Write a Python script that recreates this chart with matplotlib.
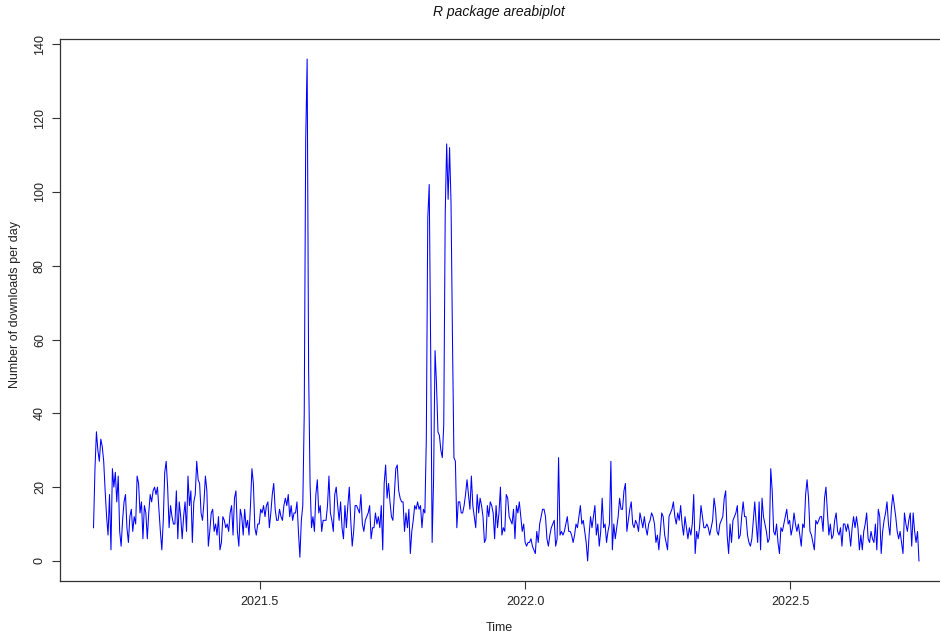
import numpy as np
import matplotlib
matplotlib.use("Agg")
import matplotlib.pyplot as plt

# daily downloads of the R package areabiplot
start_year = 2021
start_day = 69          # day of year of the first observation
freq = 365

downloads_2021 = [
    9, 25, 35, 30, 27, 33, 31, 27, 19, 12, 7, 18, 3, 25, 20, 24, 16, 23, 8, 4,
    11, 16, 18, 9, 5, 12, 14, 8, 12, 10, 23, 21, 13, 16, 6, 15, 13, 6, 13, 18,
    16, 19, 20, 18, 20, 14, 8, 3, 11, 24, 27, 20, 9, 15, 12, 10,
    10, 19, 6, 16, 12, 6, 12, 16, 8, 23, 15, 19, 5, 16, 18, 27, 22, 21, 13, 11,
    16, 23, 19, 4, 8, 13, 14, 8, 10, 7, 12, 3, 5, 12, 11, 9, 10, 8, 13, 15,
    7, 17, 19, 8, 4, 14, 12, 7, 14, 9, 11, 7, 15, 25, 21, 9, 7, 10, 10,
    14, 13, 15, 12, 15, 16, 9, 13, 18, 21, 14, 11, 11, 14, 12, 11, 15, 17, 15, 18,
    12, 15, 11, 13, 13, 16, 8, 1, 11, 15, 40, 114, 136, 52, 21, 9, 12, 8, 18, 22,
    13, 15, 8, 11, 11, 11, 15, 23, 13, 11, 8, 18, 20, 15, 11, 16, 9, 6, 15,
    9, 15, 20, 11, 4, 8, 15, 15, 14, 13, 18, 10, 8, 11, 12, 13, 15, 6, 9, 9,
    13, 10, 12, 9, 15, 3, 21, 26, 17, 21, 16, 12, 11, 18, 25, 26, 19, 17, 16, 16,
    8, 13, 9, 14, 2, 8, 11, 15, 14, 16, 14, 15, 9, 14, 13, 33, 93, 102, 57,
    5, 22, 57, 48, 35, 34, 30, 28, 37, 94, 113, 98, 112, 97, 60, 28, 27, 9,
    16, 16, 13, 13, 15, 18, 22, 18, 14, 23, 15, 12, 9, 18, 13, 17, 15, 12, 5, 6,
    15, 12, 16, 15, 13, 6, 15, 9, 13, 20, 7, 9, 8, 18, 17, 12, 11, 10, 14, 6,
    15, 13, 16, 12, 8, 10,
]

downloads_2022 = [
    5, 4, 5, 5, 6, 4, 3, 2, 8, 5, 10, 12, 14, 14, 12, 6, 4, 7, 9, 10,
    11, 4, 6, 28, 7, 8, 7, 8, 10, 12, 8, 8, 7, 5, 7, 10, 9, 12, 15, 10,
    11, 8, 5, 0, 7, 12, 9, 12, 15, 7, 10, 4, 8, 17, 9, 10,
    5, 8, 10, 27, 3, 10, 6, 9, 12, 17, 14, 14, 19, 21, 8, 11, 14, 16, 10, 9,
    11, 10, 8, 13, 11, 9, 12, 9, 7, 10, 11, 13, 12, 10, 5, 7, 3, 8, 13, 12,
    7, 5, 3, 12, 13, 14, 16, 12, 10, 13, 11, 15, 10, 7, 12, 9, 6, 9, 7,
    10, 18, 2, 8, 6, 9, 15, 12, 9, 9, 10, 9, 7, 9, 11, 17, 14, 8, 7, 10,
    11, 12, 17, 19, 7, 2, 10, 5, 11, 12, 13, 15, 6, 7, 12, 16, 12, 12, 7, 5,
    4, 6, 11, 16, 10, 5, 16, 3, 17, 12, 10, 8, 5, 6, 25, 19, 8, 7, 10,
    5, 2, 9, 8, 10, 12, 14, 10, 11, 7, 9, 13, 10, 8, 10, 7, 4, 10, 9, 18,
    22, 17, 8, 7, 5, 3, 11, 10, 11, 12, 12, 8, 17, 20, 13, 7, 10, 6, 7, 11,
    13, 8, 7, 9, 4, 10, 10, 8, 10, 8, 4, 9, 12, 9, 12, 9, 3, 7,
    3, 8, 10, 13, 6, 5, 8, 6, 5, 10, 3, 14, 12, 2, 8, 11, 13, 16, 10, 7,
    14, 18, 15, 12, 8, 6, 8, 5, 2, 13, 10, 8, 11, 13, 4, 13, 8, 5, 8, 0,
]

x_ticks = [2021.5, 2022.0, 2022.5]
y_ticks = [0, 20, 40, 60, 80, 100, 120, 140]

counts = np.array(downloads_2021 + downloads_2022, dtype=float)
t = start_year + (start_day - 1 + np.arange(len(counts))) / freq

plt.rcParams['font.family'] = ['Liberation Sans', 'DejaVu Sans']

fig = plt.figure(figsize=(9.4, 6.39), dpi=100)
# the plot box runs past the right edge of the picture, like the cropped original
ax = fig.add_axes([60.5 / 940, 58 / 639, (952 - 60.5) / 940, 542 / 639])

ax.plot(t, counts, color='#0000ff', linewidth=0.75)

# R style 4% padding on both axes
xspan = t[-1] - t[0]
ax.set_xlim(t[0] - 0.04 * xspan, t[-1] + 0.04 * xspan)
ymax = counts.max()
ax.set_ylim(-0.04 * ymax, ymax * 1.04)

ax.set_xticks(x_ticks)
ax.set_xticklabels([f"{v:.1f}" for v in x_ticks])
ax.set_yticks(y_ticks)
ax.set_yticklabels([str(v) for v in y_ticks], rotation=90, va='center')

for side in ['left', 'bottom', 'top', 'right']:
    ax.spines[side].set_color('#333333')
    ax.spines[side].set_linewidth(0.9)
ax.tick_params(axis='both', direction='out', length=5.5, width=0.8,
               color='#333333', labelsize=9, labelcolor='#222222', pad=5)

fig.text(499 / 940, 1 - 12 / 639, 'R package areabiplot', ha='center', va='center',
         fontsize=10, style='italic', color='#111111')
fig.text(499 / 940, 1 - 628 / 639, 'Time', ha='center', va='center',
         fontsize=9, color='#222222')
fig.text(15 / 940, 1 - 305 / 639, 'Number of downloads per day', ha='center',
         va='center', rotation=90, fontsize=9, color='#222222')

fig.savefig('out.png', dpi=100)
